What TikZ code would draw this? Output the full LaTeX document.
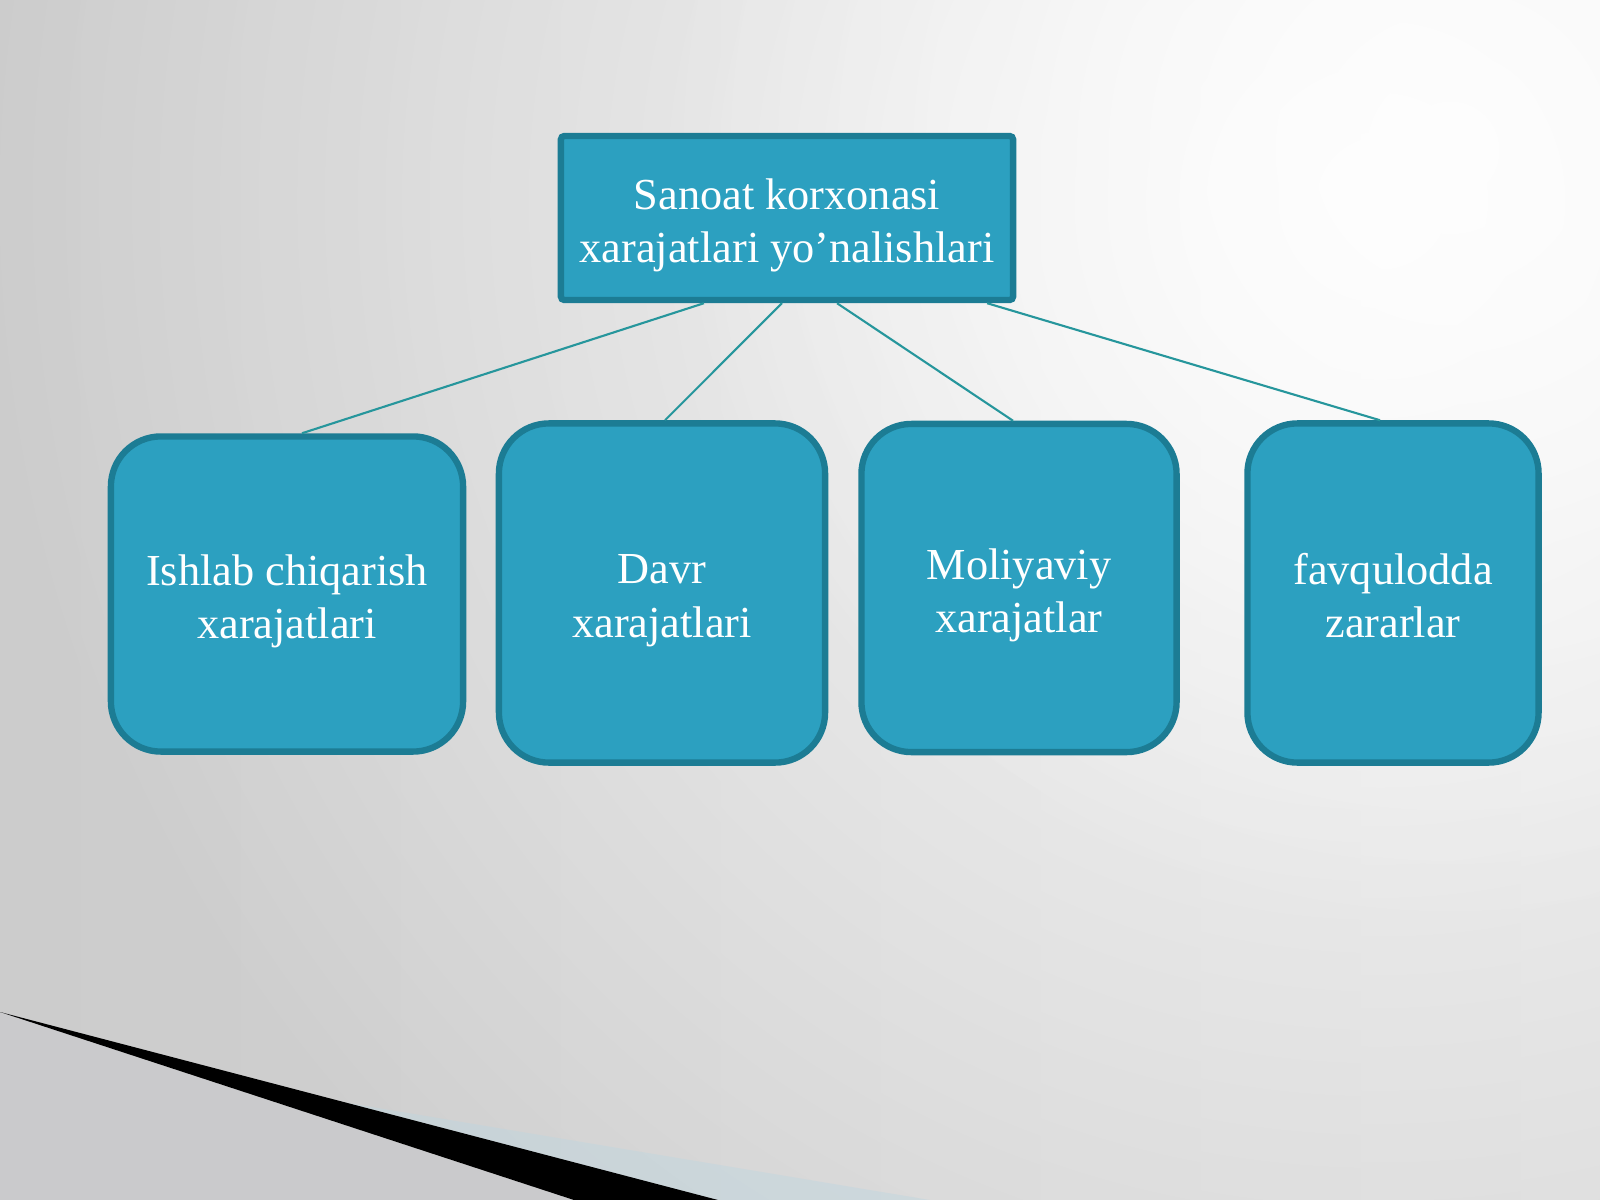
\documentclass[tikz,border=0pt]{standalone}
\usepackage{fontspec}
\setmainfont{Liberation Serif}
\usetikzlibrary{fadings}
\definecolor{boxfill}{RGB}{44,160,192}
\definecolor{boxline}{RGB}{28,124,148}
\definecolor{linkcol}{RGB}{38,150,156}
\definecolor{bgleft}{RGB}{204,204,204}
\definecolor{bggray}{RGB}{214,214,214}
\definecolor{lowgray}{RGB}{202,202,204}
\definecolor{glow}{RGB}{190,214,224}
\tikzfading[name=glowfade, inner color=transparent!0, outer color=transparent!100]
\tikzset{
  headbox/.style={draw=boxline, fill=boxfill, line width=1.8pt, rounded corners=1pt, inner sep=0pt},
  kindbox/.style={draw=boxline, fill=boxfill, line width=1.8pt, rounded corners=0.5cm, inner sep=0pt},
  boxtext/.style={text=white, align=center, inner sep=0pt, yshift=-0.075cm,
    font=\fontsize{12.6}{15.2}\selectfont},
  link/.style={draw=linkcol, line width=0.6pt}
}
\begin{document}
\begin{tikzpicture}[x=0.01cm, y=-0.01cm]
% Background
\useasboundingbox (0, 0) rectangle (1600, 1200);
\shade[left color=bgleft, right color=bggray] (0, 0) rectangle (1600, 1200);
\begin{scope}
\clip (0, 0) rectangle (1600, 1200);
\fill[white, path fading=glowfade, opacity=0.9] (1380, 200) circle (1400);
\fill[white, path fading=glowfade, opacity=0.8] (1450, 150) circle (800);
\end{scope}

% Bottom left corner
\fill[lowgray] (0, 1012) -- (574, 1200) -- (0, 1200) -- cycle;
\fill[glow, opacity=0.45] (300, 1095) -- (718, 1200) -- (930, 1200) -- cycle;
\fill[black] (0, 1012) -- (718, 1200) -- (574, 1200) -- cycle;

% Boxes
\node[headbox, minimum width=4.52cm, minimum height=1.64cm,
  label={[boxtext]center:{Sanoat korxonasi\\xarajatlari yo’nalishlari}}] (head) at (787, 218) {};
\node[kindbox, minimum width=3.52cm, minimum height=3.15cm,
  label={[boxtext]center:{Ishlab chiqarish\\xarajatlari}}] (prod) at (287, 594) {};
\node[kindbox, minimum width=3.26cm, minimum height=3.39cm,
  label={[boxtext]center:{Davr\\xarajatlari}}] (davr) at (662, 593) {};
\node[kindbox, minimum width=3.15cm, minimum height=3.28cm,
  label={[boxtext]center:{Moliyaviy\\xarajatlar}}] (moliya) at (1019, 588) {};
\node[kindbox, minimum width=2.91cm, minimum height=3.39cm,
  label={[boxtext, yshift=0.05cm]center:{favqulodda\\zararlar}}] (favq) at (1393, 593) {};

% Connectors
\draw[link] ([xshift=-0.83cm]head.south) -- ([xshift=0.15cm]prod.north);
\draw[link] ([xshift=-0.05cm]head.south) -- ([xshift=0.03cm]davr.north);
\draw[link] ([xshift=0.5cm]head.south) -- ([xshift=-0.06cm]moliya.north);
\draw[link] ([xshift=2cm]head.south) -- ([xshift=-0.13cm]favq.north);
\end{tikzpicture}
\end{document}
